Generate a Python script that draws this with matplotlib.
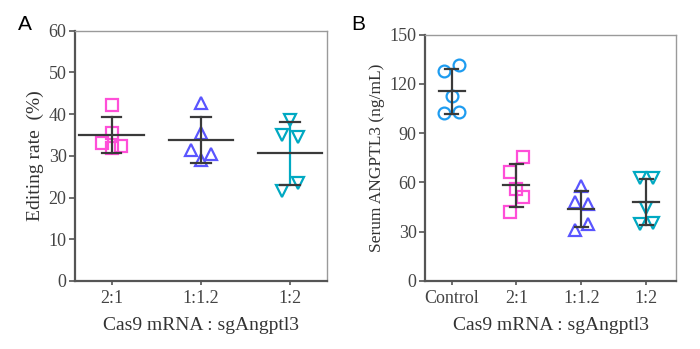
import numpy as np
import matplotlib
matplotlib.use("Agg")
import matplotlib.pyplot as plt

plt.rcParams['font.family'] = ['Liberation Serif', 'DejaVu Serif']

# Panel A: editing rate (%)
groups_a = ["2:1", "1:1.2", "1:2"]
edit_21 = [42.2, 35.5, 33.1, 31.8, 32.3]
edit_112 = [42.6, 35.5, 31.5, 30.4, 29.0]
edit_12 = [38.6, 35.0, 34.4, 23.4, 21.6]

# Panel B: serum ANGPTL3 (ng/mL)
groups_b = ["Control", "2:1", "1:1.2", "1:2"]
serum_ctrl = [128.1, 131.3, 112.6, 102.5, 102.9]
serum_21 = [66.2, 75.7, 56.0, 50.9, 41.8]
serum_112 = [57.8, 48.3, 46.7, 34.5, 31.1]
serum_12 = [62.5, 62.5, 44.7, 34.7, 35.1]

PINK = "#ff4fd8"
BLUE = "#5a55ff"
TEAL = "#00a9c2"
SKY = "#1e9cf0"
DARK = "#3a3a3a"


def style_axes(ax):
    for s in ("left", "bottom"):
        ax.spines[s].set_color("#555555")
        ax.spines[s].set_linewidth(1.6)
    for s in ("top", "right"):
        ax.spines[s].set_color("#9a9a9a")
        ax.spines[s].set_linewidth(1.0)
    ax.tick_params(axis="both", direction="out", colors="#555555",
                   labelcolor="#444444", labelsize=13, width=1.2)
    ax.tick_params(axis="y", length=4, pad=2)
    ax.tick_params(axis="x", length=3)


def draw_group(ax, x, vals, marker, color, spread, dx, mean_hw, cap_hw, bar_color=DARK):
    # spread: left/centre/right slot of each point (-1, 0, 1), just layout
    vals = np.array(vals)
    xs = x + dx * np.array(spread)
    ax.plot(xs, vals, linestyle="none", marker=marker, markersize=8.5,
            markerfacecolor="none", markeredgecolor=color, markeredgewidth=1.6, zorder=3)
    m = vals.mean()
    sd = vals.std(ddof=1)
    ax.plot([x, x], [m - sd, m + sd], color=bar_color, lw=1.6, zorder=4)
    ax.plot([x - cap_hw, x + cap_hw], [m + sd, m + sd], color=DARK, lw=1.6, zorder=4)
    ax.plot([x - cap_hw, x + cap_hw], [m - sd, m - sd], color=DARK, lw=1.6, zorder=4)
    ax.plot([x - mean_hw, x + mean_hw], [m, m], color=DARK, lw=1.6, zorder=4)


fig = plt.figure(figsize=(7.0, 3.49), dpi=100)

axA = fig.add_axes([0.107, 0.195, 0.360, 0.717])
draw_group(axA, 0, edit_21, "s", PINK, [0, 0, -1, 0, 1], 0.11, 0.36, 0.11)
draw_group(axA, 1, edit_112, "^", BLUE, [0, 0, -1, 1, 0], 0.115, 0.36, 0.11)
draw_group(axA, 2, edit_12, "v", TEAL, [0, -1, 1, 1, -1], 0.09, 0.36, 0.11, bar_color=TEAL)
axA.set_xlim(-0.41, 2.41)
axA.set_ylim(0, 60)
axA.set_yticks(np.arange(0, 61, 10))
axA.set_xticks(range(len(groups_a)))
axA.set_xticklabels(groups_a)
axA.set_ylabel("Editing rate  (%)", fontsize=14, color="#333333", labelpad=3)
axA.set_xlabel("Cas9 mRNA : sgAngptl3", fontsize=14, color="#333333", labelpad=7)
style_axes(axA)

axB = fig.add_axes([0.607, 0.195, 0.359, 0.706])
draw_group(axB, 0, serum_ctrl, "o", SKY, [-1, 1, 0, -1, 1], 0.11, 0.2, 0.1)
draw_group(axB, 1, serum_21, "s", PINK, [-1, 1, 0, 1, -1], 0.1, 0.2, 0.1)
draw_group(axB, 2, serum_112, "^", BLUE, [0, -1, 1, 1, -1], 0.1, 0.2, 0.1)
draw_group(axB, 3, serum_12, "v", TEAL, [-1, 1, 0, -1, 1], 0.1, 0.2, 0.1)
axB.set_xlim(-0.41, 3.46)
axB.set_ylim(0, 150)
axB.set_yticks(np.arange(0, 151, 30))
axB.set_xticks(range(len(groups_b)))
axB.set_xticklabels(groups_b)
axB.set_ylabel("Serum ANGPTL3 (ng/mL)", fontsize=12.5, color="#333333", labelpad=3)
axB.set_xlabel("Cas9 mRNA : sgAngptl3", fontsize=14, color="#333333", labelpad=7)
style_axes(axB)

fig.text(0.025, 0.914, "A", fontsize=15, family="Liberation Sans", color="black")
fig.text(0.502, 0.914, "B", fontsize=15, family="Liberation Sans", color="black")

fig.savefig("out.png", dpi=100)
